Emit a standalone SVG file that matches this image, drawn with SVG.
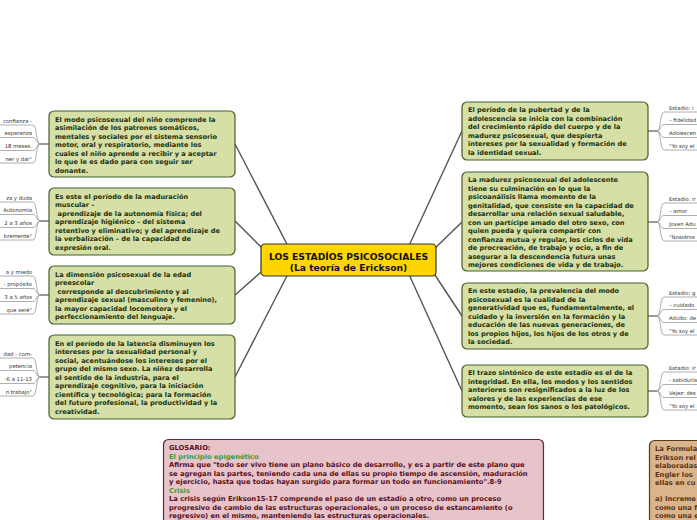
<svg xmlns="http://www.w3.org/2000/svg" width="697" height="520" viewBox="0 0 697 520">
<style>
.node rect{fill:#d5dfa6;stroke:#45602a;stroke-width:1.2}
.node text{font-family:"DejaVu Sans",Verdana,sans-serif;font-weight:bold;font-size:6.6px;fill:#1f3310}
.lbl{font-family:"DejaVu Sans",Verdana,sans-serif;font-size:5.3px;fill:#333}
.br{fill:none;stroke:#9a9a9a;stroke-width:0.8}
.stub{fill:none;stroke:#555;stroke-width:1.2}
.conn line{stroke:#555;stroke-width:1.4}
.gl{font-family:"DejaVu Sans",Verdana,sans-serif;font-weight:bold;font-size:6.75px;fill:#5a1020}
.gh{fill:#3f9a3a}
.fm{font-family:"DejaVu Sans",Verdana,sans-serif;font-weight:bold;font-size:6.75px;fill:#5a3412}
.ct{font-family:"DejaVu Sans",Verdana,sans-serif;font-weight:bold;font-size:9.2px;fill:#111}
</style>
<rect width="697" height="520" fill="#ffffff"/>
<g id="connectors" class="conn">
<line x1="290" y1="250" x2="235" y2="144"/>
<line x1="268" y1="254" x2="235" y2="221"/>
<line x1="268" y1="266" x2="235" y2="295"/>
<line x1="290" y1="270" x2="235" y2="377"/>
<line x1="407" y1="250" x2="462" y2="131"/>
<line x1="429" y1="254" x2="462" y2="222"/>
<line x1="429" y1="266" x2="462" y2="316"/>
<line x1="407" y1="270" x2="462" y2="391"/>
</g>
<g id="center">
<rect x="261" y="244" width="175" height="32" rx="4" fill="#ffd500" stroke="#333" stroke-width="1.2"/>
<text class="ct" x="348.5" y="259.5" text-anchor="middle">LOS ESTADÍOS PSICOSOCIALES</text>
<text class="ct" x="348.5" y="270.5" text-anchor="middle">(La teoría de Erickson)</text>
</g>
<g id="left1" class="node">
<rect x="49" y="111" width="186" height="66" rx="5"/>
<text x="55" y="121.5">El modo psicosexual del niño comprende la</text>
<text x="55" y="130">asimilación de los patrones somáticos,</text>
<text x="55" y="138.5">mentales y sociales por el sistema sensorio</text>
<text x="55" y="147">motor, oral y respiratorio, mediante los</text>
<text x="55" y="155.5">cuales el niño aprende a recibir y a aceptar</text>
<text x="55" y="164">lo que le es dado para con seguir ser</text>
<text x="55" y="172.5">donante.</text>
</g>
<g id="left1-labels">
<path class="stub" d="M49 144H40"/>
<path class="br" d="M40 144C36 144 37 125 33 125H0M40 144C36 144 37 137.5 33 137.5H0M40 144C36 144 37 150.5 33 150.5H0M40 144C36 144 37 163 33 163H0"/>
<text class="lbl" x="32" y="122.5" text-anchor="end">confianza -</text>
<text class="lbl" x="32" y="135" text-anchor="end">esperanza</text>
<text class="lbl" x="32" y="148" text-anchor="end">18 meses.</text>
<text class="lbl" x="32" y="160.5" text-anchor="end">ner y dar"</text>
</g>
<g id="left2" class="node">
<rect x="49" y="188" width="186" height="67" rx="5"/>
<text x="55" y="198.5">Es este el período de la maduración</text>
<text x="55" y="207">muscular –</text>
<text x="57.5" y="215.5">aprendizaje de la autonomía física; del</text>
<text x="55" y="224">aprendizaje higiénico – del sistema</text>
<text x="55" y="232.5">retentivo y eliminativo; y del aprendizaje de</text>
<text x="55" y="241">la verbalización – de la capacidad de</text>
<text x="55" y="249.5">expresión oral.</text>
</g>
<g id="left2-labels">
<path class="stub" d="M49 221H40"/>
<path class="br" d="M40 221C36 221 37 202 33 202H0M40 221C36 221 37 214.5 33 214.5H0M40 221C36 221 37 227.5 33 227.5H0M40 221C36 221 37 240 33 240H0"/>
<text class="lbl" x="32" y="199.5" text-anchor="end">za y duda</text>
<text class="lbl" x="32" y="212" text-anchor="end">Autonomía</text>
<text class="lbl" x="32" y="225" text-anchor="end">2 a 3 años</text>
<text class="lbl" x="32" y="237.5" text-anchor="end">bremente"</text>
</g>
<g id="left3" class="node">
<rect x="49" y="266" width="186" height="58" rx="5"/>
<text x="55" y="276.5">La dimensión psicosexual de la edad</text>
<text x="55" y="285">preescolar</text>
<text x="57.5" y="293.5">corresponde al descubrimiento y al</text>
<text x="55" y="302">aprendizaje sexual (masculino y femenino),</text>
<text x="55" y="310.5">la mayor capacidad locomotora y el</text>
<text x="55" y="319">perfeccionamiento del lenguaje.</text>
</g>
<g id="left3-labels">
<path class="stub" d="M49 295H40"/>
<path class="br" d="M40 295C36 295 37 276 33 276H0M40 295C36 295 37 288.5 33 288.5H0M40 295C36 295 37 301.5 33 301.5H0M40 295C36 295 37 314 33 314H0"/>
<text class="lbl" x="32" y="273.5" text-anchor="end">a y miedo</text>
<text class="lbl" x="32" y="286" text-anchor="end">- propósito</text>
<text class="lbl" x="32" y="299" text-anchor="end">3 a 5 años</text>
<text class="lbl" x="32" y="311.5" text-anchor="end">que seré"</text>
</g>
<g id="left4" class="node">
<rect x="49" y="335" width="186" height="84" rx="5"/>
<text x="55" y="345.5">En el período de la latencia disminuyen los</text>
<text x="55" y="354">intereses por la sexualidad personal y</text>
<text x="55" y="362.5">social,  acentuándose los intereses por el</text>
<text x="55" y="371">grupo del mismo sexo. La niñez desarrolla</text>
<text x="55" y="379.5">el sentido de la industria, para el</text>
<text x="55" y="388">aprendizaje cognitivo, para la iniciación</text>
<text x="55" y="396.5">científica y tecnológica; para la formación</text>
<text x="55" y="405">del futuro profesional, la productividad y la</text>
<text x="55" y="413.5">creatividad.</text>
</g>
<g id="left4-labels">
<path class="stub" d="M49 377H40"/>
<path class="br" d="M40 377C36 377 37 358 33 358H0M40 377C36 377 37 370.5 33 370.5H0M40 377C36 377 37 383.5 33 383.5H0M40 377C36 377 37 396 33 396H0"/>
<text class="lbl" x="32" y="355.5" text-anchor="end">dad - com-</text>
<text class="lbl" x="32" y="368" text-anchor="end">petencia</text>
<text class="lbl" x="32" y="381" text-anchor="end">-6 a 11-13</text>
<text class="lbl" x="32" y="393.5" text-anchor="end">n trabajo"</text>
</g>
<g id="right1" class="node">
<rect x="462" y="102" width="186" height="58" rx="5"/>
<text x="468" y="112">El período de la pubertad y de la</text>
<text x="468" y="120.5">adolescencia se inicia con la combinación</text>
<text x="468" y="129">del crecimiento rápido del cuerpo y de la</text>
<text x="468" y="137.5">madurez psicosexual, que despierta</text>
<text x="468" y="146">intereses por la sexualidad y formación de</text>
<text x="468" y="154.5">la identidad sexual.</text>
</g>
<g id="right1-labels">
<path class="stub" d="M648 131H657"/>
<path class="br" d="M657 131C661 131 660 112 664 112H697M657 131C661 131 660 124.5 664 124.5H697M657 131C661 131 660 137.5 664 137.5H697M657 131C661 131 660 150 664 150H697"/>
<text class="lbl" x="669" y="109.5">Estadio: i</text>
<text class="lbl" x="669" y="122">– fidelidad</text>
<text class="lbl" x="669" y="135">Adolescen</text>
<text class="lbl" x="669" y="147.5">"Yo soy el</text>
</g>
<g id="right2" class="node">
<rect x="462" y="172" width="186" height="99" rx="5"/>
<text x="468" y="182">La madurez psicosexual del adolescente</text>
<text x="468" y="190.5">tiene su culminación en lo que la</text>
<text x="468" y="199">psicoanálisis llama momento de la</text>
<text x="468" y="207.5">genitalidad, que consiste en la capacidad de</text>
<text x="468" y="216">desarrollar una relación sexual saludable,</text>
<text x="468" y="224.5">con un partícipe amado del otro sexo, con</text>
<text x="468" y="233">quien pueda y quiera compartir con</text>
<text x="468" y="241.5">confianza mutua y regular, los ciclos de vida</text>
<text x="468" y="250">de procreación, de trabajo y ocio, a fin de</text>
<text x="468" y="258.5">asegurar a la descendencia futura unas</text>
<text x="468" y="267">mejores condiciones de vida y de trabajo.</text>
</g>
<g id="right2-labels">
<path class="stub" d="M648 222H657"/>
<path class="br" d="M657 222C661 222 660 203 664 203H697M657 222C661 222 660 215.5 664 215.5H697M657 222C661 222 660 228.5 664 228.5H697M657 222C661 222 660 241 664 241H697"/>
<text class="lbl" x="669" y="200.5">Estadio: ir</text>
<text class="lbl" x="669" y="213">– amor</text>
<text class="lbl" x="669" y="226">Joven Adu</text>
<text class="lbl" x="669" y="238.5">"Nosotros</text>
</g>
<g id="right3" class="node">
<rect x="462" y="283" width="186" height="66" rx="5"/>
<text x="468" y="293">En este estadío, la prevalencia del modo</text>
<text x="468" y="301.5">psicosexual es la cualidad de la</text>
<text x="468" y="310">generatividad que es, fundamentalmente, el</text>
<text x="468" y="318.5">cuidado y la inversión en la formación y la</text>
<text x="468" y="327">educación de las nuevas generaciones, de</text>
<text x="468" y="335.5">los propios hijos, los hijos de los otros y de</text>
<text x="468" y="344">la sociedad.</text>
</g>
<g id="right3-labels">
<path class="stub" d="M648 316H657"/>
<path class="br" d="M657 316C661 316 660 297 664 297H697M657 316C661 316 660 309.5 664 309.5H697M657 316C661 316 660 322.5 664 322.5H697M657 316C661 316 660 335 664 335H697"/>
<text class="lbl" x="669" y="294.5">Estadio: g</text>
<text class="lbl" x="669" y="307">– cuidado</text>
<text class="lbl" x="669" y="320">Adulto: de</text>
<text class="lbl" x="669" y="332.5">"Yo soy el</text>
</g>
<g id="right4" class="node">
<rect x="462" y="365" width="186" height="52" rx="5"/>
<text x="468" y="375">El trazo sintónico de este estadío es el de la</text>
<text x="468" y="383.5">integridad. En ella, los modos y los sentidos</text>
<text x="468" y="392">anteriores son resignificados a la luz de los</text>
<text x="468" y="400.5">valores y de las experiencias de ese</text>
<text x="468" y="409">momento, sean los sanos o los patológicos.</text>
</g>
<g id="right4-labels">
<path class="stub" d="M648 391H657"/>
<path class="br" d="M657 391C661 391 660 372 664 372H697M657 391C661 391 660 384.5 664 384.5H697M657 391C661 391 660 397.5 664 397.5H697M657 391C661 391 660 410 664 410H697"/>
<text class="lbl" x="669" y="369.5">Estadio: ir</text>
<text class="lbl" x="669" y="382">- sabiduría</text>
<text class="lbl" x="669" y="395">Vejez: des</text>
<text class="lbl" x="669" y="407.5">"Yo soy el</text>
</g>
<g id="glosario">
<rect x="163.5" y="439.5" width="380" height="90" rx="5" fill="#e6c4ca" stroke="#6b2236" stroke-width="1.2"/>
<text class="gl" x="169" y="450">GLOSARIO:</text>
<text class="gl gh" x="169" y="458.5">El principio epigenético</text>
<text class="gl" x="169" y="467">Afirma que "todo ser vivo tiene un plano básico de desarrollo, y es a partir de este plano que</text>
<text class="gl" x="169" y="475.5">se agregan las partes, teniendo cada una de ellas su propio tiempo de ascensión, maduración</text>
<text class="gl" x="169" y="484">y ejercicio, hasta que todas hayan surgido para formar un todo en funcionamiento".8-9</text>
<text class="gl gh" x="169" y="492.5">Crisis</text>
<text class="gl" x="169" y="501">La crisis según Erikson15-17 comprende el paso de un estadío a otro, como un proceso</text>
<text class="gl" x="169" y="509.5">progresivo de cambio de las estructuras operacionales, o un proceso de estancamiento (o</text>
<text class="gl" x="169" y="518">regresivo) en el mismo, manteniendo las estructuras operacionales.</text>
</g>
<g id="formula">
<rect x="649.5" y="440.5" width="60" height="90" rx="5" fill="#dab48c" stroke="#5a3a1a" stroke-width="1.2"/>
<text class="fm" x="655" y="451">La Formula</text>
<text class="fm" x="655" y="459.5">Erikson rel</text>
<text class="fm" x="655" y="468">elaboradas</text>
<text class="fm" x="655" y="476.5">Engler los</text>
<text class="fm" x="655" y="485">ellas en cu</text>
<text class="fm" x="655" y="501">a) Increme</text>
<text class="fm" x="655" y="509.5">como una f</text>
<text class="fm" x="655" y="518">como una e</text>
</g>
</svg>
